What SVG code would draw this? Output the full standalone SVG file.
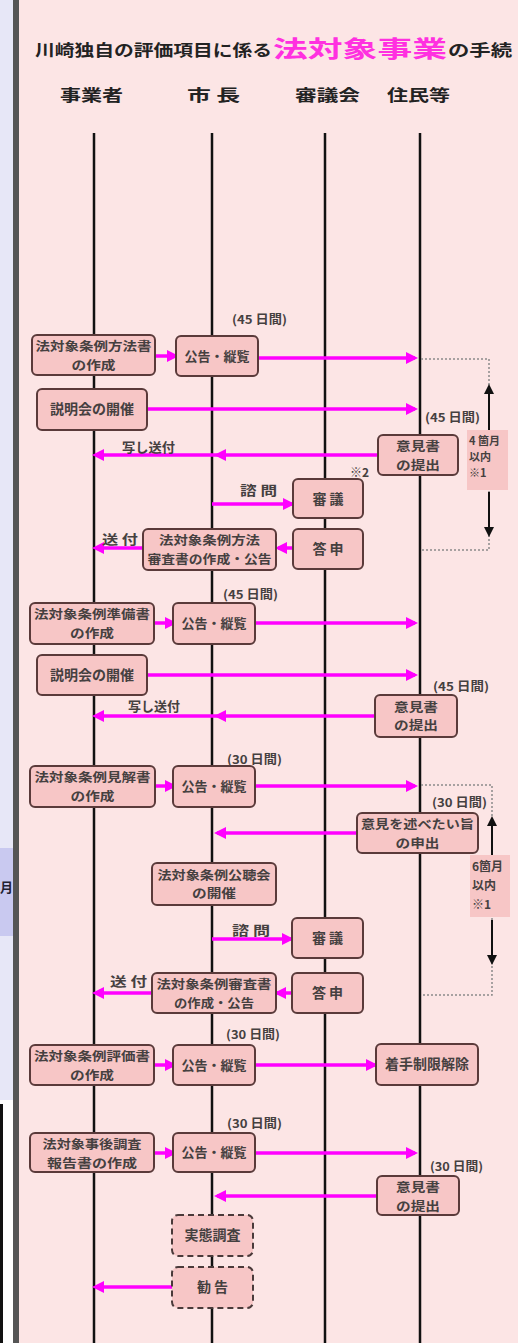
<svg xmlns="http://www.w3.org/2000/svg" width="518" height="1343" viewBox="0 0 518 1343">
<style>
.box{fill:#f7c6c6;stroke:#5a3a3a;stroke-width:2}
.dbox{fill:#f7c6c6;stroke:#4a3a3a;stroke-width:2;stroke-dasharray:6 4}
.t{font-family:"Noto Sans CJK JP","Noto Sans CJK SC",sans-serif;font-size:14px;font-weight:bold;fill:#454040;text-anchor:middle}
.t2{font-family:"Noto Sans CJK JP","Noto Sans CJK SC",sans-serif;font-size:12.5px;font-weight:bold;fill:#454040;text-anchor:middle}
.l{font-family:"Noto Sans CJK JP","Noto Sans CJK SC",sans-serif;font-size:12px;font-weight:bold;fill:#454040}
.n{font-family:"Noto Sans CJK JP","Noto Sans CJK SC",sans-serif;font-size:11px;font-weight:bold;fill:#454040}
.h{font-family:"Noto Sans CJK JP","Noto Sans CJK SC",sans-serif;font-size:16px;fill:#222}
.life{stroke:#111;stroke-width:2.5}
.arr{stroke:#ff00ff;stroke-width:3.5;fill:none;marker-end:url(#mh)}
.dot{stroke:#8a8a8a;stroke-width:1.5;stroke-dasharray:2 2;fill:none}
.barr{stroke:#111;stroke-width:2;fill:none;marker-end:url(#bh)}
</style>
<defs>
<marker id="mh" markerUnits="userSpaceOnUse" markerWidth="12" markerHeight="12" refX="9" refY="6" orient="auto"><path d="M0,0 L12,6 L0,12 z" fill="#ff00ff"/></marker>
<marker id="bh" markerUnits="userSpaceOnUse" markerWidth="10" markerHeight="10" refX="8" refY="5" orient="auto"><path d="M0,0 L10,5 L0,10 z" fill="#111"/></marker>
</defs>
<rect x="0" y="0" width="518" height="1343" fill="#fce5e5"/>
<rect x="0" y="0" width="13" height="1343" fill="#e7e7f7"/>
<rect x="0" y="848" width="13" height="88" fill="#c9c9f0"/>
<text x="0" y="892" style="font-family:'Noto Sans CJK JP',sans-serif;font-size:13px;font-weight:bold;fill:#223">月</text>
<rect x="0" y="1100" width="13" height="243" fill="#ffffff"/>
<rect x="0" y="1104" width="3" height="239" fill="#111"/>
<rect x="13" y="0" width="6" height="1343" fill="#555"/>
<g id="title" style="font-weight:bold">
<text class="h" x="35" y="56" textLength="237" lengthAdjust="spacingAndGlyphs">川崎独自の評価項目に係る</text>
<text x="273" y="57" style="font-family:'Noto Sans CJK JP',sans-serif;font-size:23px;fill:#ff30e0" textLength="174" lengthAdjust="spacingAndGlyphs">法対象事業</text>
<text class="h" x="448" y="56" textLength="64" lengthAdjust="spacingAndGlyphs">の手続</text>
</g>
<g id="headers" style="font-weight:bold">
<text class="h" x="60" y="101" textLength="63" lengthAdjust="spacingAndGlyphs">事業者</text>
<text class="h" x="187" y="101" textLength="53" lengthAdjust="spacingAndGlyphs">市 長</text>
<text class="h" x="295" y="101" textLength="65" lengthAdjust="spacingAndGlyphs">審議会</text>
<text class="h" x="387" y="101" textLength="63" lengthAdjust="spacingAndGlyphs">住民等</text>
</g>
<g id="lifelines">
<line class="life" x1="94" y1="133" x2="94" y2="1343"/>
<line class="life" x1="212" y1="133" x2="212" y2="1343"/>
<line class="life" x1="325" y1="133" x2="325" y2="1343"/>
<line class="life" x1="420" y1="133" x2="420" y2="1343"/>
</g>
<g id="connectors">
<path class="arr" d="M155,356 H176"/>
<path class="arr" d="M258,358 H415"/>
<path class="arr" d="M147,409 H415"/>
<path class="arr" d="M378,455 H217"/>
<path class="arr" d="M217,455 H95"/>
<path class="arr" d="M212,504 H292"/>
<path class="arr" d="M293,548 H278"/>
<path class="arr" d="M143,548 H95"/>
<path class="arr" d="M154,623 H174"/>
<path class="arr" d="M255,623 H415"/>
<path class="arr" d="M147,675 H415"/>
<path class="arr" d="M375,716 H217"/>
<path class="arr" d="M217,716 H95"/>
<path class="arr" d="M155,786 H174"/>
<path class="arr" d="M255,786 H415"/>
<path class="arr" d="M357,833 H217"/>
<path class="arr" d="M212,939 H291"/>
<path class="arr" d="M292,993 H277"/>
<path class="arr" d="M152,993 H95"/>
<path class="arr" d="M154,1065 H174"/>
<path class="arr" d="M255,1065 H375"/>
<path class="arr" d="M154,1153 H174"/>
<path class="arr" d="M255,1153 H415"/>
<path class="arr" d="M377,1196 H217"/>
<path class="arr" d="M172,1287 H95"/>
<path class="dot" d="M421,359 H489 V550 H421"/>
<path class="dot" d="M421,785 H492 V995 H421"/>
<path class="barr" d="M489,430 V386"/>
<path class="barr" d="M489,492 V535"/>
<path class="barr" d="M492,855 V818"/>
<path class="barr" d="M492,920 V963"/>
</g>
<g id="n1"><rect class="box" x="32" y="335" width="123" height="40" rx="5"/><text class="t2" x="93.5" y="351" textLength="116" lengthAdjust="spacingAndGlyphs">法対象条例方法書</text><text class="t2" x="93.5" y="369.5" textLength="44" lengthAdjust="spacingAndGlyphs">の作成</text></g>
<g id="n2"><rect class="box" x="176" y="336" width="82" height="40" rx="5"/><text class="t" x="217" y="361" style="font-size:13px">公告・縦覧</text></g>
<g id="n3"><rect class="box" x="37" y="389" width="110" height="41" rx="5"/><text class="t" x="92" y="414">説明会の開催</text></g>
<g id="n4"><rect class="box" x="378" y="435" width="80" height="40" rx="5"/><text class="t2" x="418" y="451" textLength="44" lengthAdjust="spacingAndGlyphs">意見書</text><text class="t2" x="418" y="469.5" textLength="44" lengthAdjust="spacingAndGlyphs">の提出</text></g>
<g id="n5"><rect class="box" x="293" y="479" width="70" height="39" rx="5"/><text class="t" x="328" y="504">審 議</text></g>
<g id="n6"><rect class="box" x="293" y="529" width="70" height="40" rx="5"/><text class="t" x="328" y="554">答 申</text></g>
<g id="n7"><rect class="box" x="143" y="529" width="133" height="41" rx="5"/><text class="t2" x="209.5" y="545" textLength="101" lengthAdjust="spacingAndGlyphs">法対象条例方法</text><text class="t2" x="209.5" y="563.5" textLength="124" lengthAdjust="spacingAndGlyphs">審査書の作成・公告</text></g>
<g id="n8"><rect class="box" x="30" y="603" width="124" height="41" rx="5"/><text class="t2" x="92" y="619" textLength="116" lengthAdjust="spacingAndGlyphs">法対象条例準備書</text><text class="t2" x="92" y="637.5" textLength="44" lengthAdjust="spacingAndGlyphs">の作成</text></g>
<g id="n9"><rect class="box" x="173" y="603" width="82" height="41" rx="5"/><text class="t" x="214" y="628" style="font-size:13px">公告・縦覧</text></g>
<g id="n10"><rect class="box" x="37" y="655" width="110" height="40" rx="5"/><text class="t" x="92" y="680">説明会の開催</text></g>
<g id="n11"><rect class="box" x="375" y="695" width="82" height="42" rx="5"/><text class="t2" x="416" y="711.5" textLength="44" lengthAdjust="spacingAndGlyphs">意見書</text><text class="t2" x="416" y="730" textLength="44" lengthAdjust="spacingAndGlyphs">の提出</text></g>
<g id="n12"><rect class="box" x="30" y="766" width="125" height="41" rx="5"/><text class="t2" x="92.5" y="782" textLength="116" lengthAdjust="spacingAndGlyphs">法対象条例見解書</text><text class="t2" x="92.5" y="800.5" textLength="44" lengthAdjust="spacingAndGlyphs">の作成</text></g>
<g id="n13"><rect class="box" x="173" y="766" width="82" height="41" rx="5"/><text class="t" x="214" y="791" style="font-size:13px">公告・縦覧</text></g>
<g id="n14"><rect class="box" x="357" y="813" width="121" height="40" rx="5"/><text class="t2" x="417.5" y="829" textLength="113" lengthAdjust="spacingAndGlyphs">意見を述べたい旨</text><text class="t2" x="417.5" y="847.5" textLength="44" lengthAdjust="spacingAndGlyphs">の申出</text></g>
<g id="n15"><rect class="box" x="152" y="863" width="124" height="42" rx="5"/><text class="t2" x="214" y="879.5" textLength="113" lengthAdjust="spacingAndGlyphs">法対象条例公聴会</text><text class="t2" x="214" y="898" textLength="44" lengthAdjust="spacingAndGlyphs">の開催</text></g>
<g id="n16"><rect class="box" x="292" y="918" width="71" height="40" rx="5"/><text class="t" x="327.5" y="943">審 議</text></g>
<g id="n17"><rect class="box" x="292" y="973" width="71" height="40" rx="5"/><text class="t" x="327.5" y="998">答 申</text></g>
<g id="n18"><rect class="box" x="152" y="973" width="124" height="40" rx="5"/><text class="t2" x="214" y="989" textLength="115" lengthAdjust="spacingAndGlyphs">法対象条例審査書</text><text class="t2" x="214" y="1007.5" textLength="80" lengthAdjust="spacingAndGlyphs">の作成・公告</text></g>
<g id="n19"><rect class="box" x="30" y="1045" width="124" height="40" rx="5"/><text class="t2" x="92" y="1061" textLength="116" lengthAdjust="spacingAndGlyphs">法対象条例評価書</text><text class="t2" x="92" y="1079.5" textLength="44" lengthAdjust="spacingAndGlyphs">の作成</text></g>
<g id="n20"><rect class="box" x="173" y="1045" width="82" height="40" rx="5"/><text class="t" x="214" y="1070" style="font-size:13px">公告・縦覧</text></g>
<g id="n21"><rect class="box" x="376" y="1044" width="102" height="41" rx="5"/><text class="t" x="427" y="1069">着手制限解除</text></g>
<g id="n22"><rect class="box" x="30" y="1133" width="124" height="39" rx="5"/><text class="t2" x="92" y="1149" textLength="99" lengthAdjust="spacingAndGlyphs">法対象事後調査</text><text class="t2" x="92" y="1167.5" textLength="90" lengthAdjust="spacingAndGlyphs">報告書の作成</text></g>
<g id="n23"><rect class="box" x="173" y="1133" width="82" height="39" rx="5"/><text class="t" x="214" y="1157" style="font-size:13px">公告・縦覧</text></g>
<g id="n24"><rect class="box" x="377" y="1176" width="82" height="39" rx="5"/><text class="t2" x="418" y="1192" textLength="44" lengthAdjust="spacingAndGlyphs">意見書</text><text class="t2" x="418" y="1210.5" textLength="44" lengthAdjust="spacingAndGlyphs">の提出</text></g>
<g id="n25"><rect class="dbox" x="172" y="1215" width="81" height="41" rx="6"/><text class="t" x="212.5" y="1240">実態調査</text></g>
<g id="n26"><rect class="dbox" x="172" y="1267" width="81" height="41" rx="6"/><text class="t" x="212.5" y="1292">勧 告</text></g>
<g id="note1"><rect x="467" y="430" width="41" height="60" fill="#f7c6c6"/><text class="n" x="469" y="445">4 箇月</text><text class="n" x="469" y="461">以内</text><text class="n" x="469" y="477">※1</text></g>
<g id="note2"><rect x="470" y="855" width="40" height="62" fill="#f7c6c6"/><text class="l" x="472" y="871">6箇月</text><text class="l" x="472" y="890">以内</text><text class="l" x="472" y="909">※1</text></g>
<g id="labels">
<text class="l" x="232" y="324" textLength="55" lengthAdjust="spacingAndGlyphs">(45 日間)</text>
<text class="l" x="425" y="422" textLength="55" lengthAdjust="spacingAndGlyphs">(45 日間)</text>
<text class="l" x="122" y="452" style="font-size:13px" textLength="53" lengthAdjust="spacingAndGlyphs">写し送付</text>
<text class="l" x="350" y="477">※2</text>
<text class="l" x="240" y="495" style="font-size:13px" textLength="37" lengthAdjust="spacingAndGlyphs">諮 問</text>
<text class="l" x="102" y="544" style="font-size:13px" textLength="36" lengthAdjust="spacingAndGlyphs">送 付</text>
<text class="l" x="223" y="599" textLength="55" lengthAdjust="spacingAndGlyphs">(45 日間)</text>
<text class="l" x="433" y="691" textLength="56" lengthAdjust="spacingAndGlyphs">(45 日間)</text>
<text class="l" x="128" y="711" style="font-size:13px" textLength="52" lengthAdjust="spacingAndGlyphs">写し送付</text>
<text class="l" x="227" y="764" textLength="55" lengthAdjust="spacingAndGlyphs">(30 日間)</text>
<text class="l" x="432" y="807" textLength="55" lengthAdjust="spacingAndGlyphs">(30 日間)</text>
<text class="l" x="232" y="935" style="font-size:13px" textLength="38" lengthAdjust="spacingAndGlyphs">諮 問</text>
<text class="l" x="110" y="986" style="font-size:13px" textLength="37" lengthAdjust="spacingAndGlyphs">送 付</text>
<text class="l" x="226" y="1039" textLength="54" lengthAdjust="spacingAndGlyphs">(30 日間)</text>
<text class="l" x="227" y="1128" textLength="55" lengthAdjust="spacingAndGlyphs">(30 日間)</text>
<text class="l" x="430" y="1171" textLength="53" lengthAdjust="spacingAndGlyphs">(30 日間)</text>
</g>
</svg>
